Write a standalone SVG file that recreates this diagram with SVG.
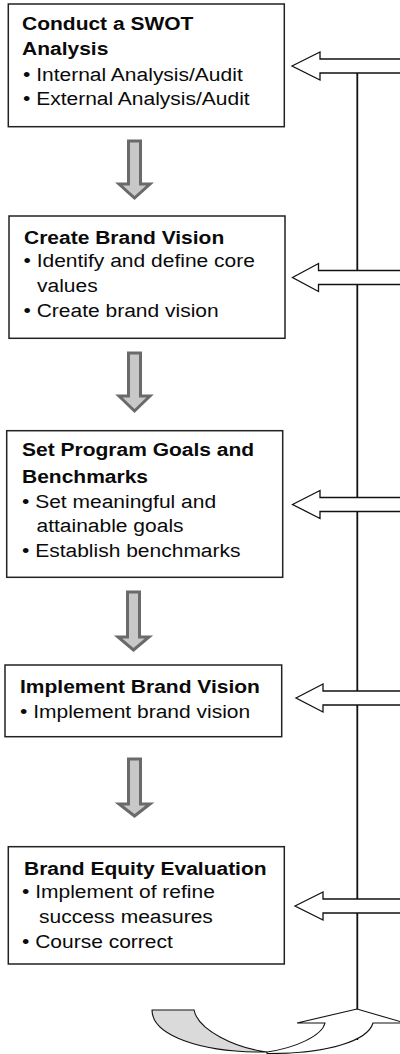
<svg xmlns="http://www.w3.org/2000/svg" width="400" height="1054" viewBox="0 0 400 1054">
  <style>
    .box { fill: #ffffff; stroke: #222222; stroke-width: 1.5; }
    .t { font-family: "Liberation Sans", Arial, Helvetica, sans-serif; font-size: 21px; fill: #0a0a0a; }
    .h { font-weight: bold; }
    .feed { fill: #ffffff; stroke: #111111; stroke-width: 1.3; stroke-linejoin: miter; }
    .down { fill: #c8c8c8; stroke: #6a6a6a; stroke-width: 3; stroke-linejoin: miter; }
    .spine { stroke: #111111; stroke-width: 1.8; fill: none; }
    .loop-back { fill: #dadada; stroke: #111111; stroke-width: 1.1; }
    .loop-front { fill: #ffffff; stroke: #111111; stroke-width: 1.1; }
  </style>

  <!-- feedback spine, arrows into each step, and step-to-step arrows -->
  <g id="connectors">
    <line class="spine" x1="357.3" y1="72" x2="357.3" y2="1009"/>
    <line class="spine" x1="357.3" y1="1032" x2="357.3" y2="1040"/>

    <polygon class="feed" points="292,66 320,52 320,59 405,59 405,73 320,73 320,80"/>
    <polygon class="feed" points="292.5,277.5 318.5,263.5 318.5,270.5 405,270.5 405,284.5 318.5,284.5 318.5,291.5"/>
    <polygon class="feed" points="292.5,504.5 320,490.5 320,497.5 405,497.5 405,511.5 320,511.5 320,518.5"/>
    <polygon class="feed" points="296,698 323,684 323,691 405,691 405,705 323,705 323,712"/>
    <polygon class="feed" points="295,906 323,892 323,899 405,899 405,913 323,913 323,920"/>

    <polygon class="down" points="128.5,141 140.5,141 140.5,184 150,184 134.5,198 119,184 128.5,184"/>
    <polygon class="down" points="128.5,353 140.5,353 140.5,396 150,396 134.5,411 119,396 128.5,396"/>
    <polygon class="down" points="127.5,592 139.5,592 139.5,637 149,637 133.5,650 118,637 127.5,637"/>
    <polygon class="down" points="128.5,759 140.5,759 140.5,804 150,804 134.5,816 119,804 128.5,804"/>

    <!-- looping return arrow at the foot of the spine -->
    <path class="loop-back" d="M152,1010 L194,1010 C198,1030 235,1048 267,1052 C200,1053 152,1035 152,1010 Z"/>
    <path class="loop-front" d="M267,1052 C295,1048 322,1036 325,1023 L297,1023 L357,1009 L405,1023 L373,1023 C368,1040 330,1054 267,1053.5 Z"/>
  </g>

  <g id="step-swot">
    <rect class="box" x="8.3" y="4" width="276" height="122.7"/>
    <text class="t h" x="22" transform="translate(0,30) scale(1,0.86)">Conduct a SWOT</text>
    <text class="t h" x="22" transform="translate(0,55) scale(1,0.86)">Analysis</text>
    <text class="t" x="23" transform="translate(0,81) scale(1,0.86)">• Internal Analysis/Audit</text>
    <text class="t" x="23" transform="translate(0,105) scale(1,0.86)">• External Analysis/Audit</text>
  </g>

  <g id="step-vision">
    <rect class="box" x="9" y="216" width="276" height="122.3"/>
    <text class="t h" x="24" transform="translate(0,244) scale(1,0.86)">Create Brand Vision</text>
    <text class="t" x="23.5" transform="translate(0,267) scale(1,0.86)">• Identify and define core</text>
    <text class="t" x="37" transform="translate(0,292) scale(1,0.86)">values</text>
    <text class="t" x="23.5" transform="translate(0,317) scale(1,0.86)">• Create brand vision</text>
  </g>

  <g id="step-goals">
    <rect class="box" x="6.7" y="430.7" width="276" height="146.6"/>
    <text class="t h" x="22" transform="translate(0,456) scale(1,0.86)">Set Program Goals and</text>
    <text class="t h" x="22" transform="translate(0,483) scale(1,0.86)">Benchmarks</text>
    <text class="t" x="22" transform="translate(0,508) scale(1,0.86)">• Set meaningful and</text>
    <text class="t" x="36.5" transform="translate(0,532) scale(1,0.86)">attainable goals</text>
    <text class="t" x="22" transform="translate(0,557) scale(1,0.86)">• Establish benchmarks</text>
  </g>

  <g id="step-implement">
    <rect class="box" x="5" y="665" width="276.7" height="71.7"/>
    <text class="t h" x="20" transform="translate(0,693) scale(1,0.86)">Implement Brand Vision</text>
    <text class="t" x="20" transform="translate(0,718) scale(1,0.86)">• Implement brand vision</text>
  </g>

  <g id="step-evaluation">
    <rect class="box" x="8.3" y="846.7" width="276" height="117.3"/>
    <text class="t h" x="24" transform="translate(0,875) scale(1,0.86)">Brand Equity Evaluation</text>
    <text class="t" x="22" transform="translate(0,898) scale(1,0.86)">• Implement of refine</text>
    <text class="t" x="39" transform="translate(0,923) scale(1,0.86)">success measures</text>
    <text class="t" x="22" transform="translate(0,948) scale(1,0.86)">• Course correct</text>
  </g>
</svg>
